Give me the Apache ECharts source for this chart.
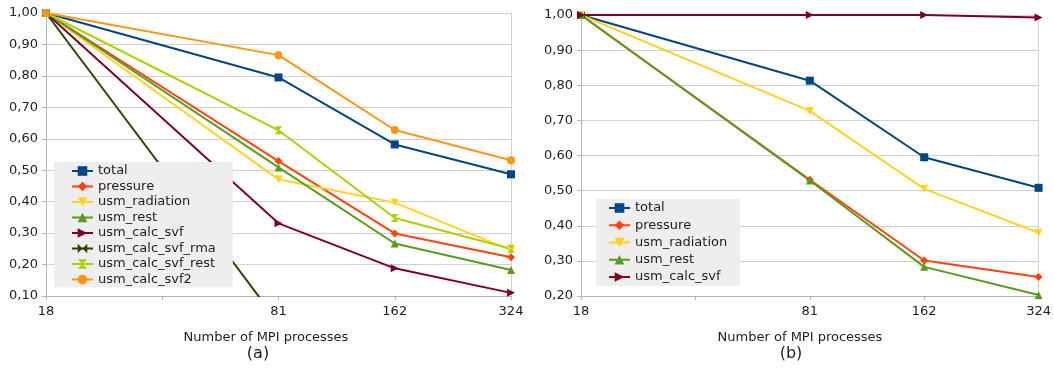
<!DOCTYPE html>
<html>
<head>
<meta charset="utf-8">
<script src="https://cdn.jsdelivr.net/npm/echarts@6/dist/echarts.min.js"></script>
<style>
  html, body { margin: 0; padding: 0; background: #ffffff; }
  #chart { width: 1054px; height: 368px; }
</style>
</head>
<body>
<div id="chart"></div>
<script>
// Process counts on the x axis; the blank slot keeps 18 -> 81 twice as wide as the later steps
const categories = ['18', '', '81', '162', '324'];

// Panel (a): relative run time per component
const aTotal       = [1.00, null, 0.795, 0.582, 0.487];
const aPressure    = [1.00, null, 0.529, 0.299, 0.223];
const aRadiation   = [1.00, null, 0.471, 0.397, 0.245];
const aRest        = [1.00, null, 0.509, 0.267, 0.183];
const aCalcSvf     = [1.00, null, 0.331, 0.188, 0.110];
const aCalcSvfRma  = [1.00, null, 0.015, null, null];
const aCalcSvfRest = [1.00, null, 0.627, 0.348, 0.250];
const aCalcSvf2    = [1.00, null, 0.866, 0.628, 0.532];

// Panel (b)
const bTotal     = [1.00, null, 0.813, 0.595, 0.508];
const bPressure  = [1.00, null, 0.531, 0.301, 0.254];
const bRadiation = [1.00, null, 0.727, 0.505, 0.380];
const bRest      = [1.00, null, 0.529, 0.283, 0.203];
const bCalcSvf   = [1.00, null, 1.000, 1.000, 0.993];

const xTitle = 'Number of MPI processes';
const panelTags = ['(a)', '(b)'];

const FONT = 'DejaVu Sans';
const TXT = '#1e1e1e';

const styles = {
  total:            { color: '#004586', symbol: 'rect' },
  pressure:         { color: '#ff420e', symbol: 'diamond' },
  usm_radiation:    { color: '#ffd320', symbol: 'path://M0,0L10,0L5,10Z' },
  usm_rest:         { color: '#579d1c', symbol: 'triangle' },
  usm_calc_svf:     { color: '#7e0021', symbol: 'path://M0,0L10,5L0,10Z' },
  usm_calc_svf_rma: { color: '#314004', symbol: 'path://M0,0L5,5L0,10ZM10,0L5,5L10,10Z' },
  usm_calc_svf_rest:{ color: '#aecf00', symbol: 'path://M0,0L10,0L5,5ZM0,10L10,10L5,5Z' },
  usm_calc_svf2:    { color: '#ff950e', symbol: 'circle' }
};

function line(name, data, idx) {
  const s = styles[name];
  return {
    name: name,
    type: 'line',
    xAxisIndex: idx,
    yAxisIndex: idx,
    data: data,
    connectNulls: true,
    clip: true,
    color: s.color,
    symbol: s.symbol,
    symbolSize: 8,
    showAllSymbol: true,
    lineStyle: { width: 2, color: s.color },
    itemStyle: { color: s.color },
    emphasis: { disabled: true },
    animation: false
  };
}

const fmt = v => v.toFixed(2).replace('.', ',');

function xAxis(idx) {
  return {
    type: 'category',
    gridIndex: idx,
    data: categories,
    boundaryGap: false,
    axisLine: { lineStyle: { color: '#b3b3b3', width: 1 } },
    axisTick: { show: true, length: 4, lineStyle: { color: '#b3b3b3' } },
    axisLabel: { color: TXT, fontFamily: FONT, fontSize: 13, margin: 9, interval: 0 },
    splitLine: {
      show: true,
      interval: (i) => i === categories.length - 1,
      lineStyle: { color: '#d0d0d0', width: 1 }
    }
  };
}

function yAxis(idx, min) {
  return {
    type: 'value',
    gridIndex: idx,
    min: min,
    max: 1.0,
    interval: 0.1,
    axisLine: { show: true, lineStyle: { color: '#b3b3b3', width: 1 } },
    axisTick: { show: true, length: 4, lineStyle: { color: '#b3b3b3' } },
    axisLabel: { color: TXT, fontFamily: FONT, fontSize: 13, margin: 8, formatter: fmt },
    splitLine: { show: true, lineStyle: { color: '#d0d0d0', width: 1 } }
  };
}

function legend(names, left, top, gap, pad) {
  return {
    orient: 'vertical',
    left: left,
    top: top,
    data: names,
    backgroundColor: '#eeeeee',
    padding: pad,
    itemWidth: 21,
    itemHeight: 12,
    itemGap: gap,
    selectedMode: false,
    textStyle: { color: TXT, fontFamily: FONT, fontSize: 13, lineHeight: 14 }
  };
}

function caption(text, x, y, size) {
  return {
    text: text,
    left: x,
    top: y,
    textAlign: 'center',
    padding: 0,
    textStyle: { color: TXT, fontFamily: FONT, fontSize: size, fontWeight: 'normal' }
  };
}

const aNames = ['total', 'pressure', 'usm_radiation', 'usm_rest', 'usm_calc_svf',
  'usm_calc_svf_rma', 'usm_calc_svf_rest', 'usm_calc_svf2'];
const aData = [aTotal, aPressure, aRadiation, aRest, aCalcSvf, aCalcSvfRma, aCalcSvfRest, aCalcSvf2];
const bNames = ['total', 'pressure', 'usm_radiation', 'usm_rest', 'usm_calc_svf'];
const bData = [bTotal, bPressure, bRadiation, bRest, bCalcSvf];

const chart = echarts.init(document.getElementById('chart'), null, { renderer: 'canvas' });
chart.setOption({
  backgroundColor: '#ffffff',
  animation: false,
  title: [
    caption(xTitle, 266, 331, 13),
    caption(panelTags[0], 258, 346, 16),
    caption(xTitle, 800, 331, 13),
    caption(panelTags[1], 791, 346, 16)
  ],
  grid: [
    { left: 46, top: 13, width: 465, height: 283 },
    { left: 581, top: 15, width: 461, height: 281 }
  ],
  xAxis: [xAxis(0), xAxis(1)],
  yAxis: [yAxis(0, 0.1), yAxis(1, 0.2)],
  legend: [
    legend(aNames, 54, 162, 1.5, [2, 17, 1, 17]),
    legend(bNames, 596, 199, 3.25, [2, 13, 2, 12])
  ],
  series: [
    ...aNames.map((n, i) => line(n, aData[i], 0)),
    ...bNames.map((n, i) => line(n, bData[i], 1))
  ]
});
</script>
</body>
</html>
